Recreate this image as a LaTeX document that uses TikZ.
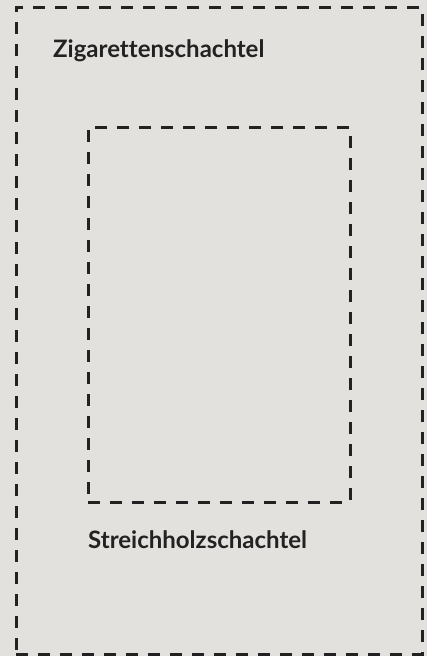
\documentclass[tikz,border=0pt]{standalone}
\usepackage{fontspec}
\setsansfont{Lato}[Ligatures=NoCommon]
\usetikzlibrary{positioning}
\definecolor{boxbg}{RGB}{227,225,222}
\definecolor{ink}{RGB}{34,34,34}
\tikzset{
  dashbox/.style={draw=ink, line width=2.5pt, dash pattern=on 12pt off 10pt,
    inner sep=0pt, anchor=north west},
  boxlabel/.style={font=\sffamily\bfseries\fontsize{24}{28}\selectfont,
    text=ink, inner sep=0pt, anchor=base west}
}
\begin{document}
\begin{tikzpicture}[x=1pt,y=-1pt]
\fill[boxbg] (0,0) rectangle (427,656);
\useasboundingbox (0,0) rectangle (427,656);

% outer box
\node[dashbox, minimum width=406pt, minimum height=647pt] (cigbox) at (15,6) {};
\node[boxlabel] (ciglabel) at (53,57) {Zigarettenschachtel};

% inner box
\node[dashbox, minimum width=262pt, minimum height=375pt] (matchbox) at (87,126) {};
\node[boxlabel] (matchlabel) at (88,548) {Streichholzschachtel};
\end{tikzpicture}
\end{document}
